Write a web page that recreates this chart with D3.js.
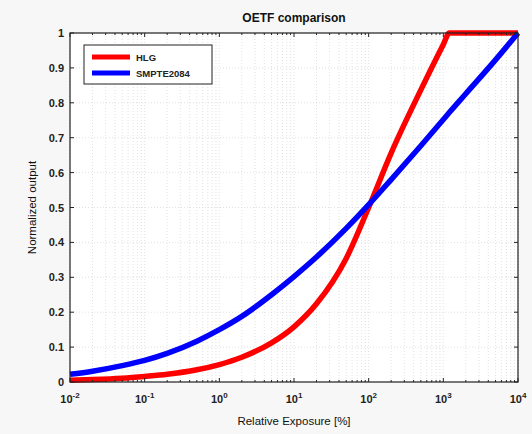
<!DOCTYPE html>
<html>
<head>
<meta charset="utf-8">
<script src="https://cdn.jsdelivr.net/npm/d3@7"></script>
<style>
  body { margin: 0; background: #f7f7f7; }
  text { font-family: "Liberation Sans", Arial, sans-serif; }
</style>
</head>
<body>
<svg></svg>
<script>
// exposure in %
const exposure = [0.01, 0.02, 0.05, 0.1, 0.2, 0.5, 1, 2, 5, 10, 20, 50, 100, 200, 500, 1000, 1200, 2000, 5000, 10000];
const hlg = [0.005, 0.007, 0.011, 0.016, 0.022, 0.035, 0.05, 0.071, 0.112, 0.158, 0.224, 0.354, 0.5, 0.656, 0.837, 0.967, 1, 1, 1, 1];
const smpte2084 = [0.022, 0.031, 0.047, 0.062, 0.082, 0.117, 0.15, 0.188, 0.25, 0.302, 0.358, 0.44, 0.508, 0.58, 0.677, 0.752, 0.772, 0.826, 0.923, 1];
const seriesNames = ['HLG', 'SMPTE2084'];
const seriesColors = ['#ff0000', '#0000ff'];
const yTicks = [0, 0.1, 0.2, 0.3, 0.4, 0.5, 0.6, 0.7, 0.8, 0.9, 1];
const xTicks = [-2, -1, 0, 1, 2, 3, 4];

const W = 532, H = 434;
const margin = { top: 33, right: 14, bottom: 52, left: 70 };
const width = W - margin.left - margin.right;
const height = H - margin.top - margin.bottom;

const svg = d3.select('svg')
    .attr('width', W)
    .attr('height', H);

const chart = svg.append('g')
    .attr('transform', `translate(${margin.left}, ${margin.top})`);

chart.append('rect')
    .attr('width', width)
    .attr('height', height)
    .attr('fill', '#fff');

const x = d3.scaleLog().domain([0.01, 10000]).range([0, width]);
const y = d3.scaleLinear().domain([0, 1]).range([height, 0]);

// minor positions 2..9 in each decade
const minor = [];
for (let e = -2; e < 4; e++) {
    for (let m = 2; m < 10; m++) minor.push(m * Math.pow(10, e));
}
const major = xTicks.map(e => Math.pow(10, e));

// dotted grid
const grid = chart.append('g')
    .attr('stroke', '#d4d4d4')
    .attr('stroke-width', 0.7)
    .attr('stroke-dasharray', '1,2');
grid.selectAll('.gx')
    .data(major.concat(minor))
    .enter().append('line')
    .attr('x1', d => x(d)).attr('x2', d => x(d))
    .attr('y1', 0).attr('y2', height);
grid.selectAll('.gy')
    .data(yTicks)
    .enter().append('line')
    .attr('x1', 0).attr('x2', width)
    .attr('y1', d => y(d)).attr('y2', d => y(d));

// curves
const line = d3.line()
    .x(d => x(d[0]))
    .y(d => y(d[1]))
    .curve(d3.curveMonotoneX);

[hlg, smpte2084].forEach((vals, i) => {
    chart.append('path')
        .datum(exposure.map((e, j) => [e, vals[j]]))
        .attr('fill', 'none')
        .attr('stroke', seriesColors[i])
        .attr('stroke-width', 5.5)
        .attr('stroke-linejoin', 'round')
        .attr('d', line);
});

// box
chart.append('rect')
    .attr('width', width)
    .attr('height', height)
    .attr('fill', 'none')
    .attr('stroke', '#222')
    .attr('stroke-width', 1.2);

// inward ticks on all four sides
const ticks = chart.append('g').attr('stroke', '#222').attr('stroke-width', 1);
[[0, 4], [height, -4]].forEach(([yy, dy]) => {
    ticks.selectAll(null).data(major).enter().append('line')
        .attr('x1', d => x(d)).attr('x2', d => x(d))
        .attr('y1', yy).attr('y2', yy + dy);
    ticks.selectAll(null).data(minor).enter().append('line')
        .attr('x1', d => x(d)).attr('x2', d => x(d))
        .attr('y1', yy).attr('y2', yy + dy / 2);
});
[[0, 4], [width, -4]].forEach(([xx, dx]) => {
    ticks.selectAll(null).data(yTicks).enter().append('line')
        .attr('x1', xx).attr('x2', xx + dx)
        .attr('y1', d => y(d)).attr('y2', d => y(d));
});

// y tick labels
chart.selectAll('.ylab')
    .data(yTicks)
    .enter().append('text')
    .attr('x', -6)
    .attr('y', d => y(d) + 4)
    .attr('text-anchor', 'end')
    .attr('font-size', 11)
    .attr('font-weight', 'bold')
    .attr('fill', '#222')
    .text(d => d3.format('~g')(d));

// x tick labels 10^n
const xl = chart.selectAll('.xlab')
    .data(xTicks)
    .enter().append('text')
    .attr('x', d => x(Math.pow(10, d)))
    .attr('y', height + 21)
    .attr('text-anchor', 'middle')
    .attr('font-size', 11)
    .attr('font-weight', 'bold')
    .attr('fill', '#222');
xl.append('tspan').text('10');
xl.append('tspan')
    .attr('dy', -5)
    .attr('font-size', 8)
    .text(d => d);

// title and axis labels
svg.append('text')
    .attr('x', margin.left + width / 2)
    .attr('y', 22)
    .attr('text-anchor', 'middle')
    .attr('font-size', 12)
    .attr('font-weight', 'bold')
    .attr('fill', '#111')
    .text('OETF comparison');

svg.append('text')
    .attr('x', margin.left + width / 2)
    .attr('y', 425)
    .attr('text-anchor', 'middle')
    .attr('font-size', 11.5)
    .attr('fill', '#111')
    .text('Relative Exposure [%]');

svg.append('text')
    .attr('transform', `translate(36, ${margin.top + height / 2}) rotate(-90)`)
    .attr('text-anchor', 'middle')
    .attr('font-size', 11.5)
    .attr('fill', '#111')
    .text('Normalized output');

// legend
const legend = chart.append('g').attr('transform', 'translate(14, 12)');
legend.append('rect')
    .attr('width', 128)
    .attr('height', 39)
    .attr('fill', '#fff')
    .attr('stroke', '#222')
    .attr('stroke-width', 1);
seriesNames.forEach((name, i) => {
    legend.append('line')
        .attr('x1', 8).attr('x2', 46)
        .attr('y1', 12 + i * 16).attr('y2', 12 + i * 16)
        .attr('stroke', seriesColors[i])
        .attr('stroke-width', 5);
    legend.append('text')
        .attr('x', 52)
        .attr('y', 16 + i * 16)
        .attr('font-size', 9.5)
        .attr('font-weight', 'bold')
        .attr('fill', '#222')
        .text(name);
});
</script>
</body>
</html>
